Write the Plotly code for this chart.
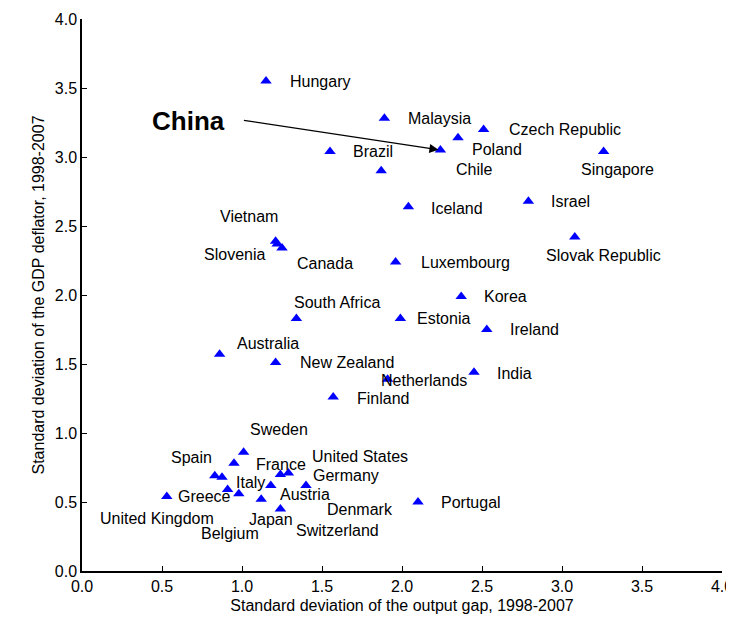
import plotly.graph_objects as go

countries = ["Hungary", "Malaysia", "Czech Republic", "Poland", "China", "Chile", "Brazil",
             "Singapore", "Israel", "Iceland", "Vietnam", "Slovenia", "Canada", "Slovak Republic",
             "Luxembourg", "Korea", "South Africa", "Estonia", "Ireland", "Australia",
             "New Zealand", "India", "Netherlands", "Finland", "Sweden", "Spain", "Greece",
             "Italy", "Belgium", "Denmark", "Japan", "Austria", "France", "United States",
             "Germany", "Switzerland", "United Kingdom", "Portugal"]
output_gap_sd = [1.15, 1.89, 2.51, 2.35, 2.24, 1.87, 1.55,
                 3.26, 2.79, 2.04, 1.21, 1.22, 1.25, 3.08,
                 1.96, 2.37, 1.34, 1.99, 2.53, 0.86,
                 1.21, 2.45, 1.91, 1.57, 1.01, 0.95, 0.83,
                 0.875, 0.91, 0.98, 1.12, 1.18, 1.24, 1.29,
                 1.40, 1.24, 0.53, 2.10]
deflator_sd = [3.55, 3.28, 3.20, 3.14, 3.05, 2.90, 3.04,
               3.04, 2.68, 2.64, 2.39, 2.37, 2.34, 2.42,
               2.24, 1.99, 1.83, 1.83, 1.75, 1.57,
               1.51, 1.44, 1.39, 1.26, 0.86, 0.78, 0.69,
               0.68, 0.59, 0.56, 0.52, 0.62, 0.70, 0.71,
               0.62, 0.45, 0.54, 0.50]
# label offsets in pixels (dx, dy) from each marker
label_offsets = [(54, 0), (55, 0), (81, 0), (39, 12), None, (93, -1), (43, 0),
                 (14, 18), (42, 0), (49, 2), (-27, -25), (-43, 11), (43, 15), (29, 18),
                 (70, 1), (44, 0), (41, -16), (43, 0), (48, 0), (48, -11),
                 (71, 0), (40, 1), (36, 1), (50, 1), (35, -23), (-43, -6), (-10, 21),
                 (28, 5), (2, 44), (121, 16), (10, 20), (34, 9), (1, -10), (72, -17),
                 (40, -10), (57, 22), (-10, 22), (53, 0)]

FONT = "Liberation Sans Narrow, Arial Narrow, Liberation Sans, Arial, sans-serif"

fig = go.Figure(go.Scatter(
    x=output_gap_sd, y=deflator_sd, mode="markers",
    marker=dict(symbol="triangle-up", color="#0000ff", size=10),
    showlegend=False))

for name, x, y, off in zip(countries, output_gap_sd, deflator_sd, label_offsets):
    if off is None:
        continue
    fig.add_annotation(x=x, y=y, text=name, showarrow=True, arrowcolor="rgba(0,0,0,0)",
                       ax=off[0], ay=off[1], font=dict(size=16, color="black"))

china = countries.index("China")
fig.add_annotation(x=output_gap_sd[china], y=deflator_sd[china], text="",
                   showarrow=True, arrowhead=2, arrowsize=1.5, arrowwidth=1.2,
                   arrowcolor="black", ax=-198, ay=-30, standoff=2)
fig.add_annotation(x=output_gap_sd[china], y=deflator_sd[china], text="<b>China</b>",
                   showarrow=True, arrowcolor="rgba(0,0,0,0)", ax=-252, ay=-29,
                   font=dict(size=26, color="black"))

axis = dict(showline=True, linecolor="black", linewidth=1.5, ticks="inside",
            ticklen=5, tickcolor="black", showgrid=False, zeroline=False,
            tickfont=dict(size=16, color="black"), mirror=False, automargin=False,
            ticklabeloverflow="allow")
fig.update_xaxes(range=[0, 4], dtick=0.5, tickformat=".1f",
                 title=dict(text="Standard deviation of the output gap, 1998-2007",
                            font=dict(size=16, color="black"), standoff=6), **axis)
fig.update_yaxes(range=[0, 4], dtick=0.5, tickformat=".1f",
                 title=dict(text="Standard deviation of the GDP deflator, 1998-2007",
                            font=dict(size=16, color="black"), standoff=6), **axis)
fig.update_layout(width=726, height=626, plot_bgcolor="white", paper_bgcolor="white",
                  font=dict(family=FONT),
                  margin=dict(l=74, r=12, t=11, b=63))
fig.write_html("out.html")
